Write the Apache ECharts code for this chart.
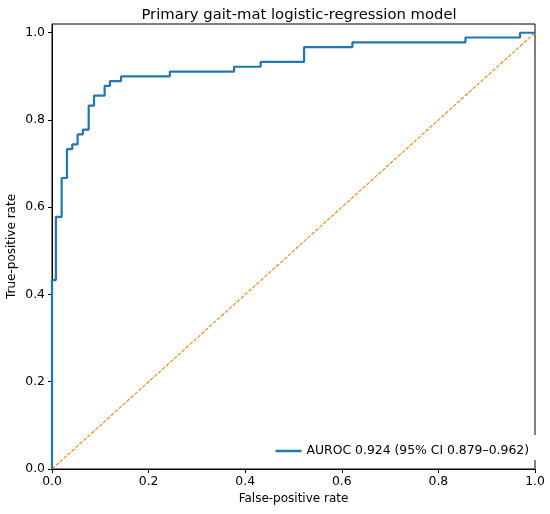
<!DOCTYPE html>
<html>
<head>
<meta charset="utf-8">
<title>ROC</title>
<script src="https://cdn.jsdelivr.net/npm/echarts@6/dist/echarts.min.js"></script>
<style>
  html, body { margin: 0; padding: 0; background: #fff; }
  #chart { width: 550px; height: 514px; }
</style>
</head>
<body>
<div id="chart"></div>
<script>
// ROC corner points
var rocFpr = [0, 0, 0.008, 0.008, 0.020, 0.020, 0.031, 0.031, 0.042, 0.042, 0.053, 0.053,
  0.064, 0.064, 0.076, 0.076, 0.087, 0.087, 0.109, 0.109, 0.120, 0.120, 0.143, 0.143,
  0.244, 0.244, 0.377, 0.377, 0.432, 0.432, 0.522, 0.522, 0.622, 0.622, 0.856, 0.856,
  0.969, 0.969, 1.0];
var rocTpr = [0, 0.433, 0.433, 0.578, 0.578, 0.667, 0.667, 0.733, 0.733, 0.744, 0.744, 0.767,
  0.767, 0.778, 0.778, 0.833, 0.833, 0.856, 0.856, 0.878, 0.878, 0.889, 0.889, 0.900,
  0.900, 0.911, 0.911, 0.922, 0.922, 0.933, 0.933, 0.967, 0.967, 0.978, 0.978, 0.989,
  0.989, 1.0, 1.0];
var chanceX = [0, 1];
var chanceY = [0, 1];
var tickVals = [0, 0.2, 0.4, 0.6, 0.8, 1.0];
var rocName = 'AUROC 0.924 (95% CI 0.879\u20130.962)';

var font = 'DejaVu Sans';
var chart = echarts.init(document.getElementById('chart'), null, { renderer: 'canvas' });

function pairs(xs, ys) {
  var out = [];
  for (var i = 0; i < xs.length; i++) out.push([xs[i], ys[i]]);
  return out;
}

var axisCommon = {
  type: 'value',
  min: 0,
  nameLocation: 'middle',
  nameMoveOverlap: false,
  nameTextStyle: { fontFamily: font, fontSize: 12, color: '#000' },
  axisLine: { show: true, lineStyle: { color: '#000', width: 1 } },
  axisTick: { show: true, length: 4, inside: false, customValues: tickVals,
    lineStyle: { color: '#000', width: 1 } },
  axisLabel: { customValues: tickVals, fontFamily: font, fontSize: 12.4, color: '#000',
    margin: 7, formatter: function (v) { return v.toFixed(1); } },
  splitLine: { show: false },
  z: 3
};

chart.setOption({
  animation: false,
  backgroundColor: '#fff',
  title: {
    text: 'Primary gait-mat logistic-regression model',
    left: 294, top: 3, textAlign: 'center',
    textStyle: { fontFamily: font, fontSize: 14.8, fontWeight: 'normal', color: '#000' }
  },
  grid: {
    left: 52, right: 15, top: 24, bottom: 45,
    outerBoundsMode: 'none', containLabel: false,
    show: true, borderColor: '#000', borderWidth: 1, backgroundColor: 'transparent'
  },
  legend: {
    data: [{ name: rocName, icon: 'rect' }],
    right: 13, top: 435,
    padding: [10, 8, 3, 8],
    backgroundColor: '#fff',
    itemWidth: 26, itemHeight: 2.5, itemGap: 7,
    textStyle: { fontFamily: font, fontSize: 12.4, color: '#000' }
  },
  xAxis: Object.assign({}, axisCommon, {
    max: 1, name: 'False-positive rate', nameGap: 24
  }),
  yAxis: Object.assign({}, axisCommon, {
    max: 1.02, name: 'True-positive rate', nameGap: 34
  }),
  series: [
    {
      name: 'chance', type: 'line', data: pairs(chanceX, chanceY),
      symbol: 'none', silent: true,
      lineStyle: { color: '#ff7f0e', width: 1.1, type: [3.7, 1.6] }
    },
    {
      name: rocName, type: 'line', data: pairs(rocFpr, rocTpr),
      symbol: 'none', showSymbol: false,
      itemStyle: { color: '#1f77b4' },
      lineStyle: { color: '#1f77b4', width: 2.2 }
    }
  ]
});
</script>
</body>
</html>
